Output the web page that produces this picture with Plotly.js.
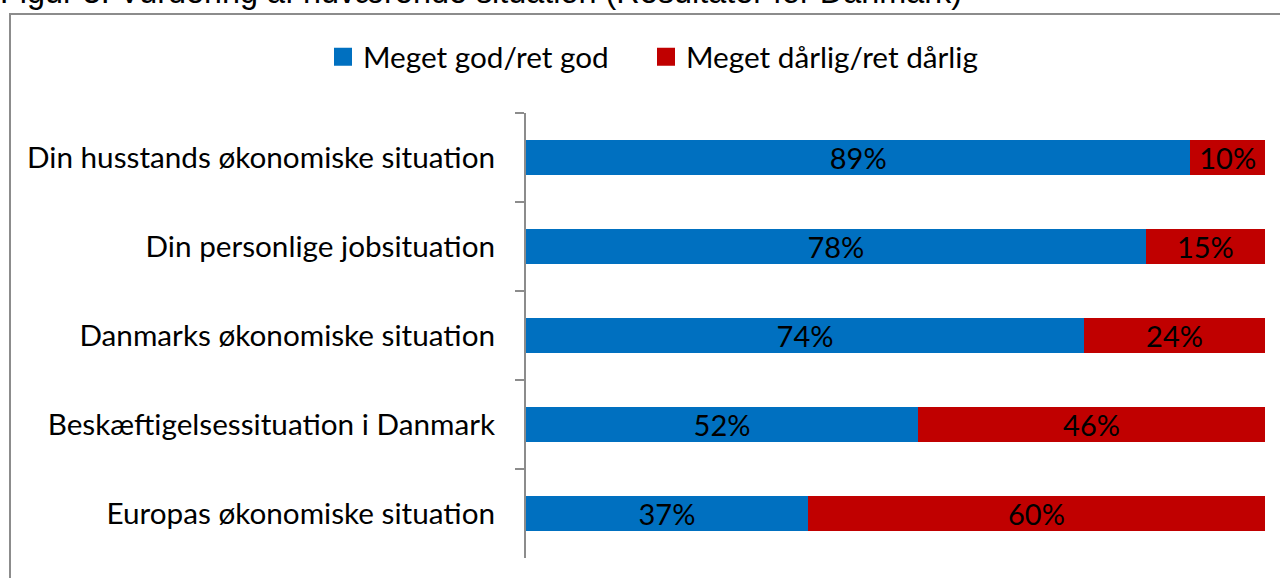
<!DOCTYPE html>
<html>
<head>
<meta charset="utf-8">
<script src="https://cdn.plot.ly/plotly-3.0.1.min.js"></script>
<style>
html,body{margin:0;padding:0;background:#fff;overflow:hidden;}
#chart{width:1280px;height:578px;}
</style>
</head>
<body>
<div id="chart"></div>
<script>
const categories = [
  "Din husstands økonomiske situation",
  "Din personlige jobsituation",
  "Danmarks økonomiske situation",
  "Beskæftigelsessituation i Danmark",
  "Europas økonomiske situation"
];
const goodValues = [89, 78, 74, 52, 37];
const badValues = [10, 15, 24, 46, 60];
const seriesNames = ["Meget god/ret god", "Meget dårlig/ret dårlig"];
const seriesColors = ["#0070C0", "#C00000"];
const titleText = "Figur 3: Vurdering af nuværende situation (Resultater for Danmark)";

const labelFont = "Lato, Calibri, 'Noto Sans', sans-serif";

const W = 1280, H = 578;
const L = 526, R = 15, T = 113, B = 20;
const pw = W - L - R, ph = H - T - B;
const px = x => (x - L) / pw;
const py = y => (H - B - y) / ph;

function barTrace(i, vals) {
  return {
    type: "bar", orientation: "h",
    name: seriesNames[i], showlegend: false,
    y: categories, x: vals,
    text: vals.map(v => v + "%"),
    texttemplate: "%{text}",
    textposition: "inside", insidetextanchor: "middle",
    textfont: {family: labelFont, size: 29, color: "#000"},
    constraintext: "none",
    marker: {color: seriesColors[i]},
    hoverinfo: "skip"
  };
}
function legendTrace(i, legendId) {
  return {
    type: "scatter", mode: "markers", name: seriesNames[i],
    legend: legendId,
    x: [null], y: [null], showlegend: true,
    marker: {symbol: "square", size: 16, color: seriesColors[i], line: {width: 2, color: seriesColors[i]}},
    hoverinfo: "skip"
  };
}

const traces = [
  barTrace(0, goodValues),
  barTrace(1, badValues),
  legendTrace(0, "legend"),
  legendTrace(1, "legend2")
];

const legendBase = {
  orientation: "h", yanchor: "middle", xanchor: "left",
  font: {family: labelFont, size: 29.7, color: "#000"},
  itemwidth: 30, bgcolor: "rgba(0,0,0,0)", borderwidth: 0
};

const layout = {
  width: W, height: H,
  margin: {l: L, r: R, t: T, b: B, pad: 0},
  paper_bgcolor: "#fff", plot_bgcolor: "#fff",
  barmode: "stack", barnorm: "percent",
  bargap: 0.6,
  font: {family: labelFont, size: 29.7, color: "#000"},
  xaxis: {
    range: [0, 100], visible: false, fixedrange: true
  },
  yaxis: {
    autorange: "reversed",
    showline: true, linecolor: "#8c8c8c", linewidth: 2,
    ticks: "outside", tickson: "boundaries", ticklen: 9, tickcolor: "#8c8c8c", tickwidth: 2,
    ticklabelstandoff: 23,
    tickfont: {family: labelFont, size: 29.7, color: "#000"},
    showgrid: false, zeroline: false, fixedrange: true
  },
  legend: Object.assign({}, legendBase, {x: px(323), y: py(57)}),
  legend2: Object.assign({}, legendBase, {x: px(646), y: py(57)}),
  showlegend: true,
  shapes: [
    {type: "rect", xref: "paper", yref: "paper",
     x0: px(10), x1: px(1300), y0: py(14), y1: py(600),
     line: {color: "#8c8c8c", width: 2}, fillcolor: "rgba(0,0,0,0)", layer: "below"}
  ],
  annotations: [
    {text: titleText, xref: "paper", yref: "paper", x: px(-2), y: py(12), xanchor: "left", yanchor: "bottom",
     showarrow: false, font: {family: "'Liberation Sans', Arial, sans-serif", size: 32.4, color: "#000"}}
  ]
};

Plotly.newPlot("chart", traces, layout, {displayModeBar: false, staticPlot: true});
</script>
</body>
</html>
